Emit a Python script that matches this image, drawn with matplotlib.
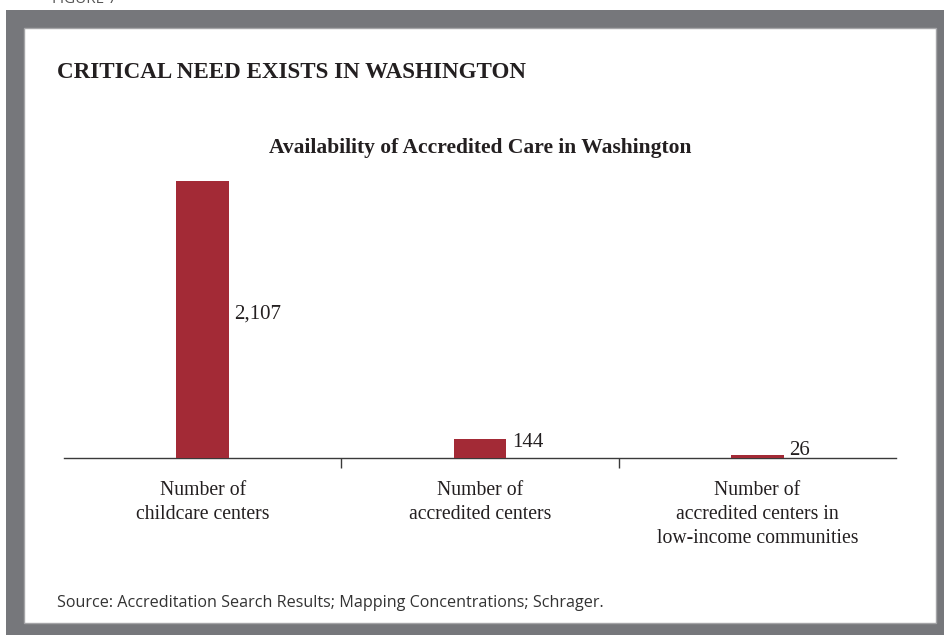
import matplotlib
matplotlib.use("Agg")
import matplotlib.pyplot as plt
from matplotlib.patches import Rectangle
from matplotlib.ticker import FixedLocator

categories = [
    "Number of\nchildcare centers",
    "Number of\naccredited centers",
    "Number of\naccredited centers in\nlow-income communities",
]
values = [2107, 144, 26]
value_labels = ["2,107", "144", "26"]

W, H = 945, 635
DPI = 100
BAR_COLOR = "#A32A36"
FRAME_GRAY = "#76777B"
TEXT = "#231F20"
SERIF = ["Liberation Serif", "DejaVu Serif"]
SANS = ["Open Sans", "DejaVu Sans"]

fig = plt.figure(figsize=(W / DPI, H / DPI), dpi=DPI)
fig.patch.set_facecolor("white")


def fx(px):
    return px / W


def fy(py):
    return 1 - py / H


# Gray frame with white inner panel
fig.patches.append(Rectangle((fx(6), fy(635)), fx(945 - 6), (635 - 10) / H,
                             transform=fig.transFigure, facecolor=FRAME_GRAY,
                             edgecolor="none", zorder=0))
fig.patches.append(Rectangle((fx(24), fy(623)), fx(936 - 24), (623 - 28) / H,
                             transform=fig.transFigure, facecolor="white",
                             edgecolor="#A5A5A8", linewidth=1.0, zorder=1))

fig.text(fx(52), fy(3), "FIGURE 7", fontsize=11, family=SANS, color="#555555",
         ha="left", va="baseline")

fig.text(fx(57), fy(78), "CRITICAL NEED EXISTS IN WASHINGTON", fontsize=16.6,
         fontweight="bold", family=SERIF, color=TEXT, ha="left", va="baseline")

fig.text(fx(480), fy(153), "Availability of Accredited Care in Washington",
         fontsize=15.5, fontweight="bold", family=SERIF, color=TEXT,
         ha="center", va="baseline")

fig.text(fx(57), fy(607), "Source: Accreditation Search Results; Mapping Concentrations; Schrager.",
         fontsize=11.6, family=SANS, color="#333333", ha="left", va="baseline")

# Chart axes
ax_left, ax_right, ax_base, ax_top = 64, 896, 458, 170
ax = fig.add_axes([fx(ax_left), fy(ax_base), fx(ax_right - ax_left),
                   (ax_base - ax_top) / H], zorder=2)
ax.set_facecolor("none")

x = list(range(len(values)))
bars = ax.bar(x, values, width=0.19, color=BAR_COLOR, zorder=3)
ax.set_xlim(-0.5, 2.5)
ymax = values[0] * (ax_base - ax_top) / (ax_base - 181)
ax.set_ylim(0, ymax)

for b, lab in zip(bars, value_labels):
    ax.annotate(lab, (b.get_x() + b.get_width(), b.get_height() / 2),
                xytext=(4, 4), textcoords="offset points",
                ha="left", va="center", fontsize=15, family=SERIF, color=TEXT)

for side in ("top", "right", "left"):
    ax.spines[side].set_visible(False)
ax.spines["bottom"].set_color("#3A3A3A")
ax.spines["bottom"].set_linewidth(1.0)
ax.set_yticks([])

ax.set_xticks(x)
ax.set_xticklabels(categories, fontsize=14.2, family=SERIF, color=TEXT,
                   linespacing=1.36, va="top")
ax.tick_params(axis="x", which="major", length=0, pad=16.5)
ax.xaxis.set_minor_locator(FixedLocator([0.5, 1.5]))
ax.tick_params(axis="x", which="minor", length=7.5, width=1.0,
               color="#3A3A3A", direction="out")

fig.savefig("out.png", dpi=DPI)
